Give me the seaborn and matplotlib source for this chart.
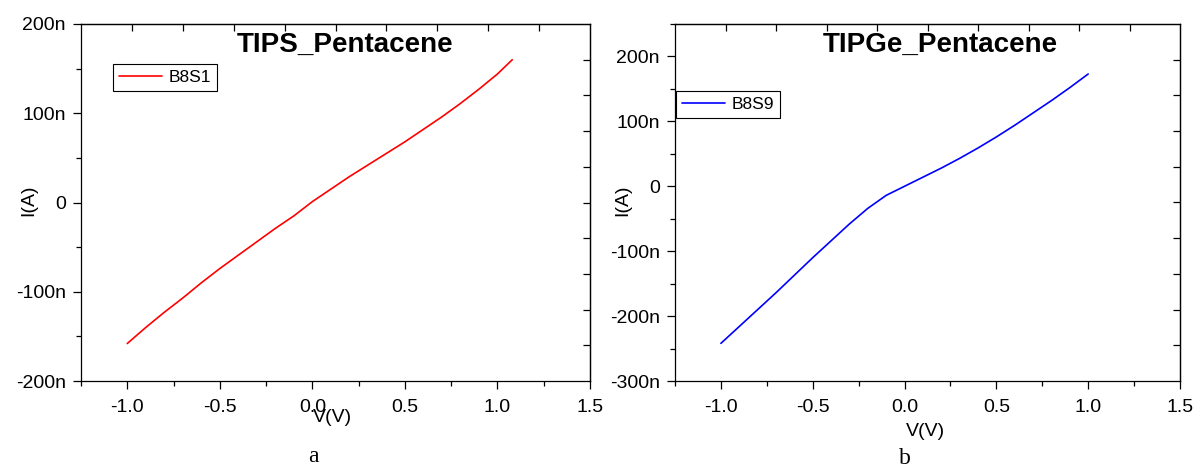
import numpy as np
import pandas as pd
import matplotlib
matplotlib.use("Agg")
import matplotlib.pyplot as plt
from matplotlib.ticker import MultipleLocator, FuncFormatter, FixedLocator, NullFormatter
import seaborn as sns

# ---- data (current in nA) ----
v_tips = [-1.0, -0.9, -0.8, -0.7, -0.6, -0.5, -0.4, -0.3, -0.2, -0.1, 0.0,
          0.1, 0.2, 0.3, 0.4, 0.5, 0.6, 0.7, 0.8, 0.9, 1.0, 1.08]
i_tips = [-158, -140, -123, -107, -90, -74, -59, -44, -29, -15, 1,
          15, 29, 42, 55, 68, 82, 96, 111, 127, 144, 160]
v_tipge = [-1.0, -0.9, -0.8, -0.7, -0.6, -0.5, -0.4, -0.3, -0.2, -0.1, 0.0,
           0.1, 0.2, 0.3, 0.4, 0.5, 0.6, 0.7, 0.8, 0.9, 1.0]
i_tipge = [-242, -216, -190, -164, -137, -110, -84, -58, -34, -14, 0,
           14, 28, 43, 59, 76, 94, 113, 132, 152, 173]
titles = ["TIPS_Pentacene", "TIPGe_Pentacene"]
labels = ["B8S1", "B8S9"]
panel_tags = ["a", "b"]
x_ticks = [-1.0, -0.5, 0.0, 0.5, 1.0, 1.5]
ylims = [(-200, 200), (-300, 250)]

sns.set_theme(style="ticks")
plt.rcParams["font.family"] = ["Liberation Sans", "DejaVu Sans"]
plt.rcParams["text.color"] = "black"
plt.rcParams["axes.labelcolor"] = "black"
plt.rcParams["xtick.color"] = "black"
plt.rcParams["ytick.color"] = "black"

fig = plt.figure(figsize=(12, 4.68), dpi=100)
ax1 = fig.add_axes([81/1200, 1-381/468, 509/1200, 357/468])
ax2 = fig.add_axes([675/1200, 1-381/468, 505/1200, 357/468])

df1 = pd.DataFrame({"V": v_tips, "I": i_tips, "s": labels[0]})
df2 = pd.DataFrame({"V": v_tipge, "I": i_tipge, "s": labels[1]})

sns.lineplot(data=df1, x="V", y="I", hue="s", palette=["#FF0000"], ax=ax1,
             linewidth=1.2, sort=False, estimator=None)
sns.lineplot(data=df2, x="V", y="I", hue="s", palette=["#0000FF"], ax=ax2,
             linewidth=1.2, sort=False, estimator=None)

yfmt = FuncFormatter(lambda v, p: "0" if abs(v) < 1e-9 else f"{v:.0f}n")
xfmt = FuncFormatter(lambda v, p: f"{v:.1f}")

title_x = [(345-81)/509, (940-675)/505]
leg_anchor = [((113-81)/509, (381-64)/357), ((676-675)/505, (381-91)/357)]
ylab_x = [(37-81)/509, (631-675)/505]
xlab_y = [(381-409)/357, (381-423)/357]

for k, ax in enumerate([ax1, ax2]):
    ax.set_xlim(-1.25, 1.5)
    ax.set_ylim(*ylims[k])
    ax.xaxis.set_major_locator(FixedLocator(x_ticks))
    ax.xaxis.set_minor_locator(MultipleLocator(0.25))
    ax.yaxis.set_major_locator(MultipleLocator(100))
    ax.yaxis.set_minor_locator(MultipleLocator(50))
    ax.xaxis.set_major_formatter(xfmt)
    ax.yaxis.set_major_formatter(yfmt)
    ax.tick_params(axis="both", which="major", direction="out", length=6, width=0.9,
                   labelsize=14, colors="black")
    ax.tick_params(axis="x", which="major", pad=7)
    ax.tick_params(axis="y", which="major", pad=5)
    ax.tick_params(axis="both", which="minor", direction="out", length=3.5, width=0.9)
    for sp in ax.spines.values():
        sp.set_visible(True)
        sp.set_linewidth(0.9)
        sp.set_color("black")
    # top & right inner ticks (10 equal divisions)
    x0, x1 = ax.get_xlim()
    y0, y1 = ax.get_ylim()
    top = ax.secondary_xaxis("top")
    top.set_xticks([x0 + j*(x1-x0)/10 for j in range(1, 10)])
    top.xaxis.set_major_formatter(NullFormatter())
    top.tick_params(direction="in", length=5, width=0.9)
    top.spines["top"].set_linewidth(0.9)
    right = ax.secondary_yaxis("right")
    right.set_yticks([y0 + j*(y1-y0)/10 for j in range(1, 10)])
    right.yaxis.set_major_formatter(NullFormatter())
    right.tick_params(direction="in", length=5, width=0.9)
    right.spines["right"].set_linewidth(0.9)

    ax.set_xlabel("V(V)", fontsize=14)
    ax.set_ylabel("I(A)", fontsize=14)
    ax.xaxis.set_label_coords(0.495, xlab_y[k])
    ax.yaxis.set_label_coords(ylab_x[k], 0.507)

    ax.text(title_x[k], (381-45)/357, titles[k], transform=ax.transAxes,
            ha="center", va="center", fontsize=20, fontweight="bold", color="black")

    leg = ax.legend(loc="upper left", bbox_to_anchor=leg_anchor[k], borderaxespad=0,
                    fontsize=12.5, handlelength=2.5, handletextpad=0.35,
                    borderpad=0.35, fancybox=False, frameon=True, framealpha=1)
    leg.get_frame().set_edgecolor("black")
    leg.get_frame().set_linewidth(0.8)

fig.text(313/1200, 1-456/468, panel_tags[0], ha="center", va="center",
         fontsize=17, family=["Liberation Serif", "DejaVu Serif"])
fig.text(905/1200, 1-458/468, panel_tags[1], ha="center", va="center",
         fontsize=17, family=["Liberation Serif", "DejaVu Serif"])

fig.savefig("out.png", dpi=100, facecolor="white")
